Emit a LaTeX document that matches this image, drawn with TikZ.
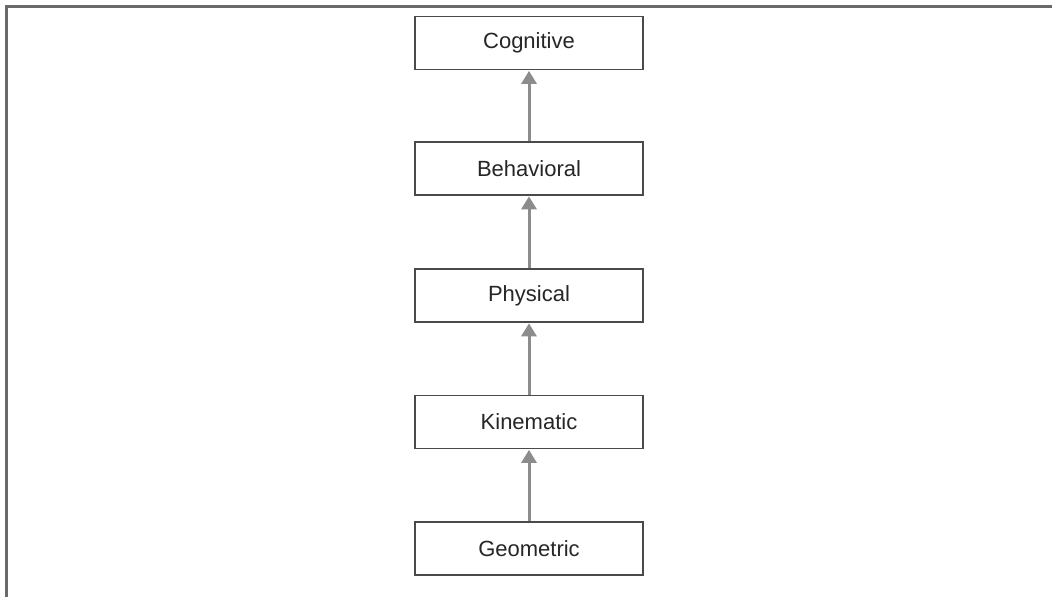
\documentclass[tikz,border=0pt]{standalone}
\usepackage{fontspec}
\setmainfont{Liberation Sans}
\usetikzlibrary{arrows.meta}
\definecolor{framegray}{HTML}{6A6A6A}
\definecolor{boxgray}{HTML}{4A4A4A}
\definecolor{arrowgray}{HTML}{8C8C8C}
\begin{document}
\begin{tikzpicture}[x=1pt,y=-1pt,
  levelbox/.style={draw=boxgray, line width=1.3pt, fill=white,
    minimum width=228pt, minimum height=53pt, inner sep=0pt,
    font=\fontsize{22}{26}\selectfont, text=black!85},
  uparrow/.style={draw=arrowgray, line width=3pt,
    -{Triangle[width=15pt,length=13pt]}, shorten >=0.7pt}]
  \useasboundingbox (0,0) rectangle (1052,597);
  % open frame: top and left edges only
  \draw[framegray, line width=2.4pt] (6.5,597) -- (6.5,6.5) -- (1052,6.5);
  % levels, bottom to top
  \node[levelbox] (geo) at (529,548.5) {Geometric};
  \node[levelbox] (kin) at (529,422) {Kinematic};
  \node[levelbox] (phy) at (529,295.5) {Physical};
  \node[levelbox] (beh) at (529,168.5) {Behavioral};
  \node[levelbox] (cog) at (529,43) {Cognitive};
  \draw[uparrow] (geo.north) -- (kin.south);
  \draw[uparrow] (kin.north) -- (phy.south);
  \draw[uparrow] (phy.north) -- (beh.south);
  \draw[uparrow] (beh.north) -- (cog.south);
\end{tikzpicture}
\end{document}
